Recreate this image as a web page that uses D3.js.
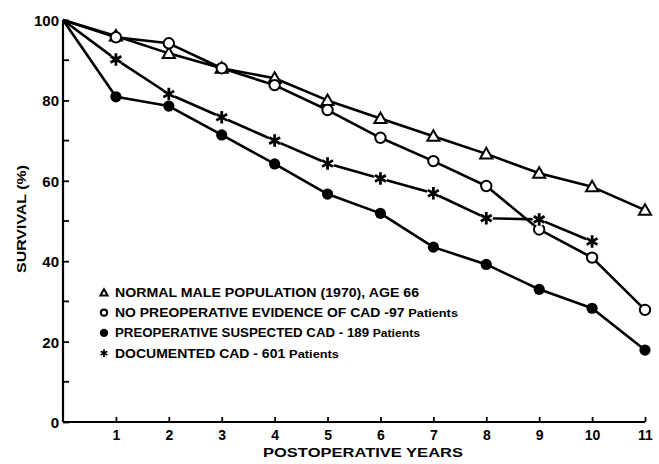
<!DOCTYPE html>
<html>
<head>
<meta charset="utf-8">
<script src="https://cdn.jsdelivr.net/npm/d3@7"></script>
<style>
  body { margin: 0; background: #fff; }
  text { font-family: "Liberation Sans", "DejaVu Sans", sans-serif; font-weight: bold; fill: #000; }
</style>
</head>
<body>
<div id="chart"></div>
<script>
// survival (%) per postoperative year
var years = [0, 1, 2, 3, 4, 5, 6, 7, 8, 9, 10, 11];
var normalMale = [100, 96, 91.7, 88, 85.5, 80, 75.5, 71.1, 66.7, 61.9, 58.5, 52.7];
var noEvidence = [100, 95.7, 94.2, 88, 83.8, 77.6, 70.7, 64.9, 58.7, 47.9, 40.9, 27.9];
var suspected = [100, 80.9, 78.6, 71.4, 64.2, 56.7, 51.9, 43.5, 39.2, 33.0, 28.3, 17.9];
var documented = [100, 90.2, 81.6, 75.8, 70.0, 64.3, 60.6, 56.9, 50.7, 50.4, 44.9];

var yMajor = [0, 20, 40, 60, 80, 100];
var yMinor = [10, 30, 50, 70, 90];
var xTicks = [1, 2, 3, 4, 5, 6, 7, 8, 9, 10, 11];

var legendLabels = [
    {sym: "triangle", text: "NORMAL MALE POPULATION (1970), AGE 66", len: 304},
    {sym: "open", text: "NO PREOPERATIVE EVIDENCE OF CAD -97 ", extra: "Patients", len: 343},
    {sym: "filled", text: "PREOPERATIVE SUSPECTED CAD - 189 ", extra: "Patients", len: 305},
    {sym: "star", text: "DOCUMENTED CAD - 601 ", extra: "Patients", len: 224}
];

var width = 659, height = 464;

var svg = d3.select("#chart").append("svg")
    .attr("width", width)
    .attr("height", height);

var x = d3.scaleLinear().domain([0, 11]).range([63, 645]);
var y = d3.scaleLinear().domain([0, 100]).range([422, 20]);

// axes
var yAxis = d3.axisLeft(y).tickValues(yMajor).tickSize(-6).tickPadding(-4).tickFormat(d3.format("d"));
var yg = svg.append("g").attr("transform", "translate(" + x(0) + ",0)").call(yAxis);
yg.select(".domain").attr("stroke-width", 2.2).attr("d", "M0," + y(100) + "V" + y(0));
yg.selectAll(".tick line").attr("stroke-width", 1.8);
yg.selectAll(".tick text").attr("x", -4).style("font-size", "15px").attr("dy", "0.36em");

svg.append("g").selectAll("line")
    .data(yMinor)
    .enter().append("line")
    .attr("x1", x(0)).attr("x2", x(0) + 6)
    .attr("y1", function(d) { return y(d); })
    .attr("y2", function(d) { return y(d); })
    .attr("stroke", "#000").attr("stroke-width", 1.8);

var xAxis = d3.axisBottom(x).tickValues(xTicks).tickSize(-5).tickPadding(8);
var xg = svg.append("g").attr("transform", "translate(0," + y(0) + ")").call(xAxis);
xg.select(".domain").attr("stroke-width", 2.2).attr("d", "M" + x(0) + ",0H" + x(11));
xg.selectAll(".tick line").attr("stroke-width", 1.8);
xg.selectAll(".tick text").style("font-size", "14px");

svg.append("text")
    .attr("x", 363).attr("y", 457)
    .attr("text-anchor", "middle")
    .style("font-size", "13px")
    .attr("textLength", 200)
    .attr("lengthAdjust", "spacingAndGlyphs")
    .text("POSTOPERATIVE YEARS");

svg.append("text")
    .attr("transform", "translate(26,219) rotate(-90)")
    .attr("text-anchor", "middle")
    .style("font-size", "13px")
    .attr("textLength", 108)
    .attr("lengthAdjust", "spacingAndGlyphs")
    .text("SURVIVAL (%)");

// lines
var line = d3.line()
    .x(function(d, i) { return x(years[i]); })
    .y(function(d) { return y(d); });

var series = [
    {values: normalMale, sym: "triangle"},
    {values: noEvidence, sym: "open"},
    {values: suspected, sym: "filled"},
    {values: documented, sym: "star"}
];

svg.append("g").selectAll("path")
    .data(series)
    .enter().append("path")
    .attr("d", function(d) { return line(d.values); })
    .attr("fill", "none")
    .attr("stroke", "#000")
    .attr("stroke-width", 2.6)
    .attr("stroke-linejoin", "round");

function drawMarker(g, sym, scale) {
    scale = scale || 1;
    if (sym === "triangle") {
        g.append("path").attr("d", d3.symbol().type(d3.symbolTriangle).size(64 * scale * scale)())
            .attr("transform", "translate(0,1)")
            .attr("fill", "#fff").attr("stroke", "#000").attr("stroke-width", 2);
    } else if (sym === "open") {
        g.append("circle").attr("r", 5.2 * scale)
            .attr("fill", "#fff").attr("stroke", "#000").attr("stroke-width", 2);
    } else if (sym === "filled") {
        g.append("circle").attr("r", 5.6 * scale).attr("fill", "#000");
    } else {
        var s = d3.symbol().type(d3.symbolAsterisk).size(110 * scale * scale)();
        g.append("path").attr("d", s).attr("fill", "none").attr("stroke", "#fff").attr("stroke-width", 6 * scale);
        g.append("path").attr("d", s).attr("fill", "none").attr("stroke", "#000").attr("stroke-width", 2.8 * scale);
    }
}

series.forEach(function(s) {
    s.values.forEach(function(v, i) {
        if (i === 0) return;
        var g = svg.append("g").attr("transform", "translate(" + x(years[i]) + "," + y(v) + ")");
        drawMarker(g, s.sym);
    });
});

// legend
var legend = svg.append("g");
legendLabels.forEach(function(d, i) {
    var cy = 292.5 + i * 20.2;
    var g = legend.append("g").attr("transform", "translate(104," + cy + ")");
    drawMarker(g, d.sym, d.sym === "filled" ? 0.75 : 0.6);
    var t = legend.append("text")
        .attr("x", 115).attr("y", cy + 4.5)
        .style("font-size", "12px")
        .attr("textLength", d.len)
        .attr("lengthAdjust", "spacingAndGlyphs");
    t.append("tspan").text(d.text);
    if (d.extra) t.append("tspan").style("font-size", "11px").text(d.extra);
});
</script>
</body>
</html>
